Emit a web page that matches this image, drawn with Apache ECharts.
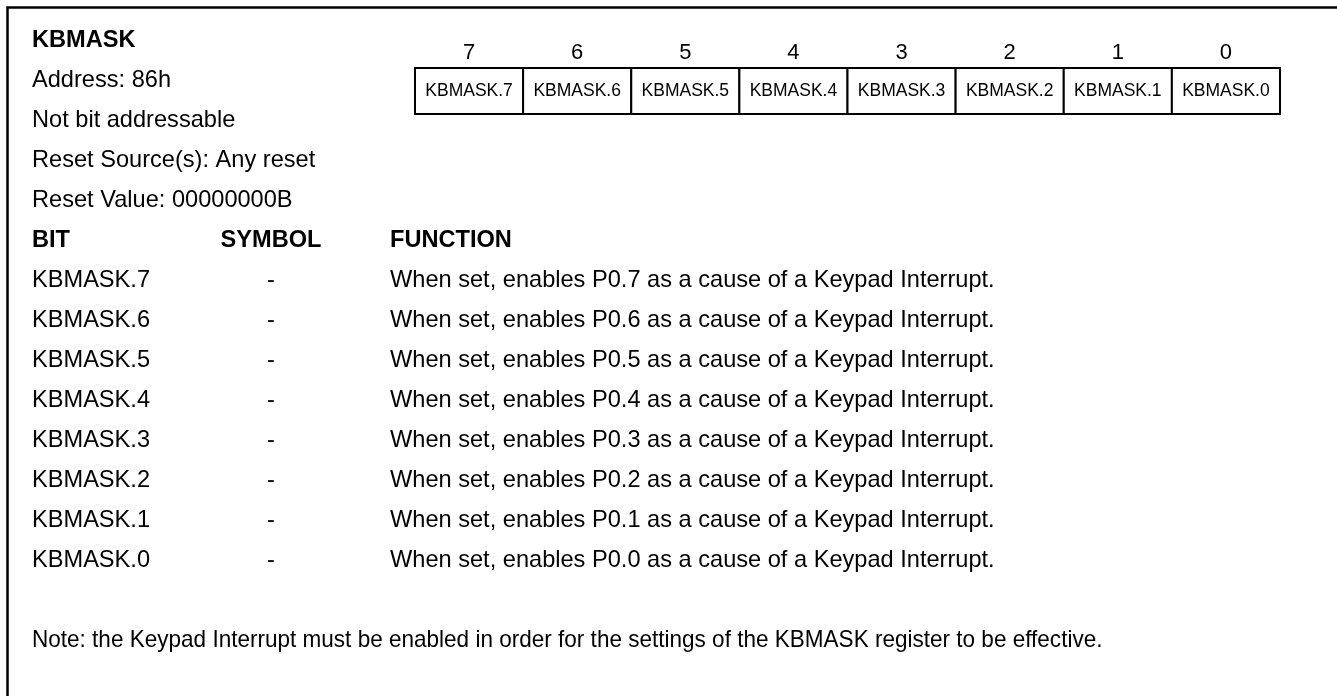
<!DOCTYPE html>
<html>
<head>
<meta charset="utf-8">
<script src="https://cdn.jsdelivr.net/npm/echarts@6/dist/echarts.min.js"></script>
<style>
html,body{margin:0;padding:0;background:#fff;}
#chart{width:1337px;height:696px;}
</style>
</head>
<body>
<div id="chart"></div>
<script>
// ---- data ----
const registerName = 'KBMASK';
const infoLines = ['Address: 86h', 'Not bit addressable', 'Reset Source(s): Any reset', 'Reset Value: 00000000B'];
const headers = ['BIT', 'SYMBOL', 'FUNCTION'];
const bitNumbers = ['7', '6', '5', '4', '3', '2', '1', '0'];
const bitNames = ['KBMASK.7', 'KBMASK.6', 'KBMASK.5', 'KBMASK.4', 'KBMASK.3', 'KBMASK.2', 'KBMASK.1', 'KBMASK.0'];
const symbols = ['-', '-', '-', '-', '-', '-', '-', '-'];
const functions = [
  'When set, enables P0.7 as a cause of a Keypad Interrupt.',
  'When set, enables P0.6 as a cause of a Keypad Interrupt.',
  'When set, enables P0.5 as a cause of a Keypad Interrupt.',
  'When set, enables P0.4 as a cause of a Keypad Interrupt.',
  'When set, enables P0.3 as a cause of a Keypad Interrupt.',
  'When set, enables P0.2 as a cause of a Keypad Interrupt.',
  'When set, enables P0.1 as a cause of a Keypad Interrupt.',
  'When set, enables P0.0 as a cause of a Keypad Interrupt.'
];
const note = 'Note: the Keypad Interrupt must be enabled in order for the settings of the KBMASK register to be effective.';
const cellFill = [1, 1, 1, 1, 1, 1, 1, 1]; // each register cell spans the full box height

// ---- layout / styles ----
const FONT = '"Liberation Sans", Arial, Helvetica, sans-serif';
const BODY = 23.6;
const colX = {bit: 32, symbol: 271, func: 390};

// build text cells (row slot index on the category axis)
const cells = [];
cells.push({x: colX.bit, row: 0, text: registerName, bold: true, align: 'left'});
infoLines.forEach((t, i) => cells.push({x: colX.bit, row: 1 + i, text: t, bold: false, align: 'left'}));
cells.push({x: colX.bit, row: 5, text: headers[0], bold: true, align: 'left'});
cells.push({x: colX.symbol, row: 5, text: headers[1], bold: true, align: 'center'});
cells.push({x: colX.func, row: 5, text: headers[2], bold: true, align: 'left'});
bitNames.forEach((b, i) => {
  cells.push({x: colX.bit, row: 6 + i, text: b, bold: false, align: 'left'});
  cells.push({x: colX.symbol, row: 6 + i, text: symbols[i], bold: false, align: 'center'});
  cells.push({x: colX.func, row: 6 + i, text: functions[i], bold: false, align: 'left'});
});
cells.push({x: colX.bit, row: 15, text: note, bold: false, align: 'left', scaleX: 0.955});
const rowSlots = Array.from({length: 16}, (_, i) => 'r' + i);

const chart = echarts.init(document.getElementById('chart'), null, {renderer: 'canvas'});
chart.setOption({
  animation: false,
  backgroundColor: '#ffffff',
  graphic: [{
    type: 'polyline',
    shape: {points: [[1340, 7.5], [7.5, 7.5], [7.5, 700]]},
    style: {stroke: '#000', lineWidth: 2.5, fill: null},
    z: 10
  }],
  grid: [
    {left: 415, right: 57, top: 68, height: 46},
    {left: 0, right: 0, top: 20, height: 640}
  ],
  xAxis: [
    {
      gridIndex: 0, type: 'category', data: bitNumbers, position: 'top',
      axisLine: {show: false}, axisTick: {show: false},
      axisLabel: {color: '#000', fontSize: 22, fontFamily: FONT, margin: 4}
    },
    {gridIndex: 1, type: 'value', min: 0, max: 1337, show: false}
  ],
  yAxis: [
    {gridIndex: 0, type: 'value', min: 0, max: 1, show: false},
    {gridIndex: 1, type: 'category', data: rowSlots, inverse: true, show: false}
  ],
  series: [
    {
      type: 'custom', xAxisIndex: 0, yAxisIndex: 0,
      data: cellFill.map((v, i) => [i, v]),
      renderItem: function (params, api) {
        const i = api.value(0);
        const top = api.coord([i, api.value(1)]);
        const bottom = api.coord([i, 0]);
        const bw = api.size([1, 0])[0];
        return {
          type: 'group',
          children: [
            {
              type: 'rect',
              shape: {x: top[0] - bw / 2, y: top[1], width: bw, height: bottom[1] - top[1]},
              style: {fill: '#fff', stroke: '#000', lineWidth: 2}
            },
            {
              type: 'text', x: top[0], y: (top[1] + bottom[1]) / 2,
              style: {
                text: bitNames[params.dataIndex], fill: '#000', align: 'center', verticalAlign: 'middle',
                font: '17.5px ' + FONT
              }
            }
          ]
        };
      },
      silent: true
    },
    {
      type: 'custom', xAxisIndex: 1, yAxisIndex: 1,
      data: cells.map(c => [c.x, c.row]),
      renderItem: function (params, api) {
        const c = cells[params.dataIndex];
        const p = api.coord([api.value(0), api.value(1)]);
        return {
          type: 'text',
          x: p[0], y: p[1],
          scaleX: c.scaleX || 1,
          style: {
            text: c.text, fill: '#000', align: c.align, verticalAlign: 'middle',
            font: (c.bold ? 'bold ' : '') + BODY + 'px ' + FONT
          }
        };
      },
      silent: true
    }
  ]
});
</script>
</body>
</html>
